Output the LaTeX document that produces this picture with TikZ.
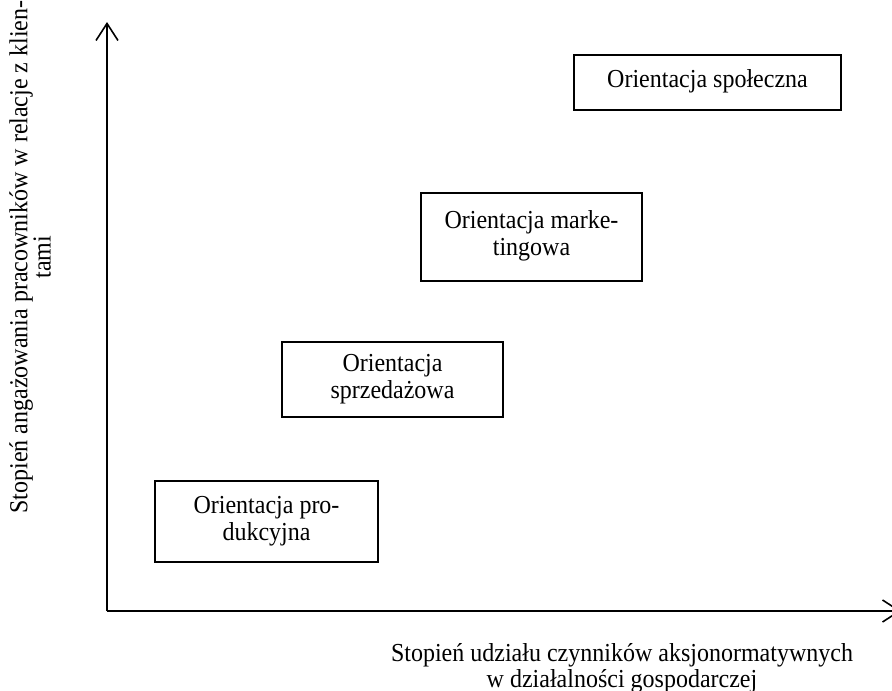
\documentclass[tikz,border=0pt]{standalone}
\usepackage{fontspec}
\setmainfont{Liberation Serif}
\usetikzlibrary{arrows.meta}
\newcommand{\tallstack}[2]{\scalebox{1}[1.08]{\fontsize{24}{#1}\selectfont\renewcommand{\arraystretch}{1}\begin{tabular}{@{}c@{}}#2\end{tabular}}}
\begin{document}
\begin{tikzpicture}[x=1pt,y=-1pt,
  orient/.style={draw=black,line width=1.2pt,align=center,inner sep=0pt},
  axis/.style={line width=1.8pt,-{Straight Barb[length=17pt,width=22pt,line width=1.6pt]}},
  axlabel/.style={align=center,inner sep=0pt}]
\clip (0,0) rectangle (892,691);
\fill[white] (0,0) rectangle (892,691);
\coordinate (O) at (107,611);
\coordinate (ytop) at (107,22);
\coordinate (xend) at (901,611);
\draw[axis] (O) -- (ytop);
\draw[axis] (O) -- (xend);
\node[orient,minimum width=267pt,minimum height=55pt] (spol) at (707.5,82.5) {\tallstack{25}{Orientacja społeczna}};
\node[orient,minimum width=221pt,minimum height=88pt] (mark) at (531.5,237) {\tallstack{25}{Orientacja marke-\\tingowa}};
\node[orient,minimum width=221pt,minimum height=75pt] (sprz) at (392.5,379.5) {\tallstack{25}{Orientacja\\sprzedażowa}};
\node[orient,minimum width=223pt,minimum height=81pt] (prod) at (266.5,521.5) {\tallstack{25}{Orientacja pro-\\dukcyjna}};
\node[axlabel,rotate=90] (ylab) at (33,257) {\tallstack{18.5}{Stopień angażowania pracowników w relacje z klien-\\tami}};
\node[axlabel] (xlab) at (622,669) {\tallstack{23}{Stopień udziału czynników aksjonormatywnych\\w działalności gospodarczej}};
\end{tikzpicture}
\end{document}
